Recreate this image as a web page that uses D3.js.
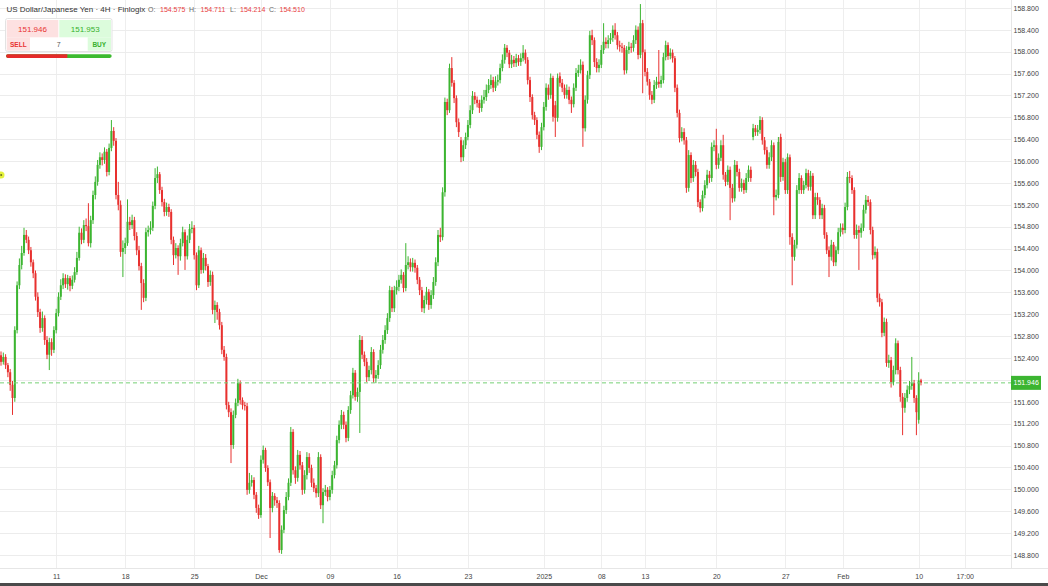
<!DOCTYPE html>
<html><head><meta charset="utf-8">
<script src="https://cdn.jsdelivr.net/npm/d3@7"></script>
<style>html,body{margin:0;padding:0;background:#fff;overflow:hidden}svg{display:block;font-family:"Liberation Sans",Arial,sans-serif}</style>
</head><body><svg id="c" width="1048" height="586"></svg>
<script>
const opens=[
152.45,152.33,152.42,152.27,152.14,151.91,151.67,152.91,153.73,154.10,
154.32,154.65,154.56,154.37,154.15,153.95,153.52,153.24,152.95,153.13,
152.73,152.46,152.69,152.55,152.91,153.22,153.52,153.73,153.86,153.75,
153.86,153.72,153.83,153.97,154.23,154.69,154.56,154.83,154.81,154.50,
154.92,155.38,155.62,155.93,156.07,156.02,156.17,155.80,156.24,156.55,
156.37,155.38,155.20,154.34,154.41,154.50,154.89,154.83,154.92,154.63,
154.37,154.08,153.77,153.50,154.70,154.74,154.78,155.18,155.69,155.76,
155.47,155.25,155.07,155.16,155.07,154.56,154.28,154.41,154.26,154.50,
154.70,154.26,154.56,154.76,154.78,154.28,153.73,154.37,154.01,154.23,
154.08,153.79,153.92,153.28,153.37,153.24,153.00,152.55,152.42,151.54,
151.41,150.81,151.36,151.58,151.94,151.63,151.54,151.52,149.99,150.12,
150.17,149.90,149.66,149.53,150.54,150.72,150.39,150.13,149.66,149.88,
149.80,149.75,148.89,149.26,149.62,149.86,150.12,151.05,150.35,150.21,
150.63,150.44,149.99,150.26,150.59,150.39,150.12,150.02,149.93,150.59,
149.71,149.95,149.99,149.86,149.99,150.26,150.44,150.90,151.18,151.36,
151.18,150.94,151.45,151.72,152.13,151.69,151.78,152.73,152.46,152.33,
152.05,152.18,152.51,152.03,152.09,152.27,152.55,152.73,152.91,153.13,
153.64,153.31,153.64,153.70,153.83,153.92,153.68,154.10,154.15,154.06,
154.14,154.05,153.83,153.64,153.31,153.46,153.61,153.37,153.55,153.79,
154.15,154.65,154.61,155.43,157.08,156.93,157.70,157.43,157.15,156.71,
156.38,156.07,156.29,156.44,156.66,156.93,157.19,157.12,157.06,156.97,
157.12,157.17,157.30,157.39,157.48,157.34,157.45,157.48,157.70,157.85,
158.07,157.98,157.77,157.85,157.79,157.88,157.81,157.88,157.98,157.85,
157.48,157.17,156.84,156.75,156.48,156.26,156.62,156.99,157.34,157.21,
157.52,157.02,156.79,157.55,157.43,157.34,157.21,157.30,157.12,157.04,
157.34,157.61,157.66,157.76,156.60,157.12,157.57,158.30,158.21,157.81,
157.70,157.76,158.03,158.18,158.14,158.21,158.25,158.40,158.30,158.12,
158.09,158.07,157.66,158.03,158.09,158.07,158.21,158.40,157.94,158.52,
157.99,157.63,157.45,157.21,157.12,157.39,157.45,157.41,157.48,157.90,
158.12,157.92,157.98,157.88,157.34,156.88,156.42,156.53,156.38,155.51,
156.11,155.69,155.93,155.80,155.25,155.14,155.38,155.56,155.75,155.69,
156.26,156.29,155.93,156.06,156.29,155.75,155.62,155.84,155.51,155.32,
155.93,155.80,155.51,155.60,155.47,155.69,155.84,156.44,156.60,156.53,
156.57,156.75,156.38,156.20,155.93,156.07,156.29,155.34,155.38,156.44,
155.71,155.98,155.47,156.07,154.61,154.25,154.47,155.47,155.69,155.47,
155.56,155.78,155.53,155.73,155.01,155.34,155.29,155.01,155.14,154.65,
154.37,154.25,154.47,154.15,154.37,154.70,154.78,154.74,155.16,155.71,
155.69,155.47,154.65,154.74,154.69,154.78,155.11,155.29,155.25,154.74,
154.28,154.34,153.50,153.42,152.86,153.06,152.31,152.36,151.96,152.18,
152.67,152.18,151.69,151.49,151.67,151.82,151.89,151.94,151.67,151.27,
151.99];
const highs=[
152.52,152.50,152.47,152.31,152.20,151.98,152.98,153.80,154.22,154.45,
154.78,154.74,154.62,154.43,154.20,154.00,153.60,153.30,153.25,153.18,
152.80,152.77,152.76,152.98,153.30,153.60,153.84,153.95,153.93,153.92,
153.90,153.91,154.06,154.34,154.80,154.77,154.92,154.95,155.23,155.00,
155.46,155.72,156.02,156.16,156.14,156.25,156.22,156.32,156.75,156.62,
156.42,155.62,155.28,154.55,154.60,155.30,154.98,155.02,154.98,154.70,
154.45,154.14,153.84,154.78,154.82,154.90,155.26,155.87,155.90,155.80,
155.53,155.31,155.24,155.22,155.12,154.62,154.50,154.46,154.58,154.80,
154.75,154.64,154.85,154.90,154.83,154.33,154.45,154.42,154.32,154.30,
154.12,154.00,153.98,153.45,153.42,153.30,153.06,152.62,152.48,151.60,
151.48,151.44,151.66,152.02,151.99,151.68,151.60,151.58,150.30,150.26,
150.22,149.95,149.72,150.62,150.80,150.76,150.44,150.18,149.95,149.93,
149.86,149.80,149.34,149.70,149.95,150.20,151.14,151.10,150.42,150.72,
150.70,150.50,150.35,150.68,150.66,150.45,150.20,150.08,150.68,150.64,
150.02,150.08,150.04,150.06,150.34,150.52,150.98,151.26,151.45,151.42,
151.24,151.52,151.80,152.22,152.18,151.86,152.82,152.80,152.52,152.40,
152.26,152.60,152.56,152.18,152.36,152.64,152.82,153.00,153.22,153.72,
153.70,153.72,153.82,153.92,154.02,153.97,154.50,154.26,154.22,154.23,
154.20,154.10,153.88,153.70,153.54,153.70,153.66,153.64,153.88,154.24,
154.74,154.78,155.52,157.16,157.14,157.78,157.90,157.48,157.20,156.78,
156.44,156.38,156.52,156.75,157.02,157.28,157.26,157.18,157.12,157.20,
157.30,157.40,157.50,157.58,157.54,157.55,157.58,157.78,157.95,158.14,
158.12,158.03,157.94,157.92,157.96,157.94,157.97,158.12,158.04,157.90,
157.54,157.22,156.90,156.80,156.54,156.70,157.08,157.42,157.40,157.60,
157.56,157.10,157.60,157.62,157.50,157.40,157.40,157.36,157.18,157.42,
157.70,157.76,157.86,157.82,157.20,157.65,158.38,158.40,158.26,157.88,
157.86,158.12,158.52,158.26,158.30,158.34,158.48,158.52,158.36,158.20,
158.16,158.12,158.10,158.18,158.16,158.30,158.48,158.46,158.87,158.58,
158.04,157.70,157.50,157.28,157.48,157.54,158.03,157.56,157.98,158.20,
158.17,158.06,158.04,157.92,157.40,156.94,156.62,156.60,156.44,156.20,
156.16,156.02,156.00,155.86,155.30,155.46,155.65,155.84,155.82,156.34,
156.38,156.59,156.14,156.38,156.48,155.80,155.92,155.90,155.58,156.02,
156.00,155.86,155.68,155.66,155.78,155.92,155.90,156.68,156.66,156.66,
156.82,156.80,156.44,156.26,156.16,156.38,156.34,155.48,156.44,156.50,
156.06,156.04,156.14,156.12,154.68,154.56,155.56,155.78,155.74,155.64,
155.86,155.84,155.82,155.78,155.42,155.42,155.34,155.22,155.20,154.70,
154.44,154.56,154.52,154.44,154.78,154.86,154.86,155.24,155.80,155.82,
155.74,155.52,154.84,154.82,154.86,155.20,155.38,155.36,155.30,154.80,
154.44,154.40,153.58,153.48,153.14,153.12,152.46,152.42,152.26,152.76,
152.72,152.24,151.76,151.76,151.90,151.98,152.42,152.00,151.72,152.14,
152.02];
const lows=[
152.26,152.28,152.20,152.05,151.80,151.36,151.60,152.85,153.66,154.02,
154.27,154.50,154.30,154.07,153.86,153.45,153.15,152.86,152.88,152.64,
152.38,152.18,152.44,152.49,152.85,153.16,153.46,153.66,153.68,153.65,
153.62,153.66,153.78,153.92,154.18,154.48,154.50,154.72,154.44,154.42,
154.85,155.30,155.55,155.86,155.92,155.95,155.72,155.74,156.18,156.28,
155.30,155.10,154.25,153.88,154.30,154.45,154.74,154.76,154.55,154.28,
154.00,153.28,153.42,153.44,154.62,154.66,154.72,155.12,155.60,155.40,
155.17,154.99,155.00,154.98,154.48,154.10,154.22,153.92,154.18,154.44,
154.01,154.20,154.50,154.68,154.20,153.64,153.68,153.94,153.95,154.00,
153.70,153.72,153.20,153.04,153.10,152.92,152.47,152.35,151.46,151.32,
150.48,150.74,151.30,151.52,151.55,151.46,151.44,149.90,149.92,150.05,
149.82,149.57,149.46,149.48,150.47,150.32,150.06,149.11,149.58,149.70,
149.66,148.84,148.82,149.20,149.55,149.80,150.06,150.27,150.10,150.14,
150.36,149.90,149.92,150.18,150.30,150.04,149.95,149.85,149.86,149.64,
149.38,149.88,149.78,149.80,149.92,150.20,150.38,150.84,151.10,151.10,
150.86,150.88,151.38,151.66,151.62,151.60,151.03,152.38,152.25,151.96,
151.98,152.10,151.95,151.94,152.02,152.20,152.48,152.66,152.84,153.06,
153.24,153.24,153.56,153.62,153.76,153.60,153.62,154.02,153.98,153.98,
153.96,153.75,153.55,153.24,153.22,153.38,153.28,153.30,153.48,153.72,
154.08,154.52,154.55,155.35,156.84,156.88,157.36,157.06,156.62,156.44,
155.98,156.00,156.22,156.38,156.60,156.86,157.04,156.98,156.88,156.90,
157.05,157.10,157.24,157.32,157.26,157.28,157.38,157.42,157.64,157.78,
157.90,157.70,157.70,157.72,157.72,157.74,157.74,157.82,157.78,157.40,
157.08,156.76,156.66,156.40,156.15,156.20,156.56,156.92,157.12,157.14,
156.72,156.44,156.72,157.36,157.26,157.14,157.14,157.04,156.88,156.98,
157.28,157.54,157.60,156.26,156.54,157.05,157.50,158.12,157.72,157.62,
157.62,157.70,157.96,158.06,158.06,158.14,158.18,158.22,158.04,158.00,
157.98,157.58,157.60,157.96,157.98,158.00,158.14,157.86,157.88,157.24,
157.55,157.38,157.12,157.04,157.06,157.32,157.34,157.34,157.42,157.84,
157.85,157.86,157.80,157.26,156.80,156.34,156.36,156.30,155.42,155.44,
155.60,155.62,155.72,155.16,155.06,155.08,155.32,155.50,155.60,155.62,
156.18,155.85,155.86,156.00,155.66,155.54,155.56,154.92,155.24,155.26,
155.72,155.44,155.44,155.40,155.42,155.62,155.62,156.38,156.46,156.46,
156.50,156.30,156.12,155.86,155.86,156.00,155.01,155.28,155.32,155.62,
155.64,155.40,155.40,154.47,153.73,154.18,154.40,155.40,155.40,155.40,
155.50,155.46,155.46,154.94,154.94,155.20,154.94,154.94,154.58,154.30,
153.88,154.18,154.08,154.08,154.30,154.62,154.66,154.68,155.10,155.60,
155.40,154.58,154.58,154.01,154.60,154.72,155.04,155.18,154.66,154.20,
154.22,153.42,153.34,152.78,152.80,152.24,152.22,151.86,151.90,152.10,
152.10,151.60,150.99,151.40,151.60,151.74,151.82,151.58,150.99,151.20,
151.90];
const closes=[
152.33,152.42,152.27,152.14,151.91,151.67,152.91,153.73,154.10,154.32,
154.65,154.56,154.37,154.15,153.95,153.52,153.24,152.95,153.13,152.73,
152.46,152.69,152.55,152.91,153.22,153.52,153.73,153.86,153.75,153.86,
153.72,153.83,153.97,154.23,154.69,154.56,154.83,154.81,154.50,154.92,
155.38,155.62,155.93,156.07,156.02,156.17,155.80,156.24,156.55,156.37,
155.38,155.20,154.34,154.41,154.50,154.89,154.83,154.92,154.63,154.37,
154.08,153.77,153.50,154.70,154.74,154.78,155.18,155.69,155.76,155.47,
155.25,155.07,155.16,155.07,154.56,154.28,154.41,154.26,154.50,154.70,
154.26,154.56,154.76,154.78,154.28,153.73,154.37,154.01,154.23,154.08,
153.79,153.92,153.28,153.37,153.24,153.00,152.55,152.42,151.54,151.41,
150.81,151.36,151.58,151.94,151.63,151.54,151.52,149.99,150.12,150.17,
149.90,149.66,149.53,150.54,150.72,150.39,150.13,149.66,149.88,149.80,
149.75,148.89,149.26,149.62,149.86,150.12,151.05,150.35,150.21,150.63,
150.44,149.99,150.26,150.59,150.39,150.12,150.02,149.93,150.59,149.71,
149.95,149.99,149.86,149.99,150.26,150.44,150.90,151.18,151.36,151.18,
150.94,151.45,151.72,152.13,151.69,151.78,152.73,152.46,152.33,152.05,
152.18,152.51,152.03,152.09,152.27,152.55,152.73,152.91,153.13,153.64,
153.31,153.64,153.70,153.83,153.92,153.68,154.10,154.15,154.06,154.14,
154.05,153.83,153.64,153.31,153.46,153.61,153.37,153.55,153.79,154.15,
154.65,154.61,155.43,157.08,156.93,157.70,157.43,157.15,156.71,156.53,
156.07,156.29,156.44,156.66,156.93,157.19,157.12,157.06,156.97,157.12,
157.17,157.30,157.39,157.48,157.34,157.45,157.48,157.70,157.85,158.07,
157.98,157.77,157.85,157.79,157.88,157.81,157.88,157.98,157.85,157.48,
157.17,156.84,156.75,156.48,156.26,156.62,156.99,157.34,157.21,157.52,
156.81,156.79,157.52,157.43,157.34,157.21,157.30,157.12,157.04,157.34,
157.61,157.66,157.76,156.60,157.12,157.57,158.30,158.21,157.81,157.70,
157.76,158.03,158.18,158.14,158.21,158.25,158.40,158.30,158.12,158.09,
158.07,157.66,158.03,158.09,158.07,158.21,158.40,157.94,158.52,157.99,
157.63,157.45,157.21,157.12,157.39,157.45,157.41,157.48,157.90,158.12,
157.92,157.98,157.88,157.34,156.88,156.42,156.53,156.38,155.51,156.11,
155.69,155.93,155.80,155.25,155.14,155.38,155.56,155.75,155.69,156.26,
156.29,155.93,156.06,156.29,155.75,155.62,155.84,155.51,155.32,155.93,
155.80,155.51,155.60,155.47,155.69,155.84,155.69,156.60,156.53,156.57,
156.75,156.38,156.20,155.93,156.07,156.29,155.34,155.38,156.35,155.71,
155.98,155.47,156.07,154.61,154.25,154.47,155.47,155.69,155.47,155.56,
155.78,155.53,155.73,155.01,155.34,155.29,155.01,155.14,154.65,154.37,
154.25,154.47,154.15,154.37,154.70,154.78,154.74,155.16,155.71,155.69,
155.47,154.65,154.74,154.69,154.78,155.11,155.29,155.25,154.74,154.28,
154.34,153.50,153.42,152.86,153.06,152.31,152.36,151.96,152.18,152.67,
152.18,151.69,151.49,151.67,151.82,151.89,151.94,151.67,151.41,151.99,
151.95];

const priceTicks=[148.8,149.2,149.6,150.0,150.4,150.8,151.2,151.6,152.0,152.4,152.8,153.2,153.6,154.0,154.4,154.8,155.2,155.6,156.0,156.4,156.8,157.2,157.6,158.0,158.4,158.8];
const timeTickIndex=[24,54,84,113,143,172,203,236,261,280,311,341,366,399,419];
const timeTickLabels=["11","18","25","Dec","09","16","23","2025","08","13","20","27","Feb","10","17:00"];
const lastPrice=151.946;
const bidPrice="151.946", askPrice="151.953", spreadText="7";
const titleText="US Dollar/Japanese Yen · 4H · Finlogix";
const ohlcNames=["O:","H:","L:","C:"];
const ohlcValues=["154.575","154.711","154.214","154.510"];

const W=1048,H=586,plotW=1011,plotH=568;
const UP="#3cb531",DOWN="#e8312f";
const svg=d3.select("#c");

const x=d3.scaleLinear().domain([0,440]).range([1,1013]);
const y=d3.scaleLinear().domain([148.562,158.944]).range([plotH,0]);

// grid
const gv=svg.append("g").attr("transform",`translate(0,${plotH})`)
  .call(d3.axisBottom(x).tickValues(timeTickIndex).tickSize(-plotH).tickFormat(""));
gv.select(".domain").remove();
gv.selectAll("line").attr("stroke","#eeeeee").attr("shape-rendering","crispEdges");
const gh=svg.append("g")
  .call(d3.axisLeft(y).tickValues(priceTicks).tickSize(-plotW).tickFormat(""));
gh.select(".domain").remove();
gh.selectAll("line").attr("stroke","#ececec").attr("shape-rendering","crispEdges");

// candles
const idx=d3.range(closes.length);
const cg=svg.append("g");
cg.selectAll("line.w").data(idx).join("line")
  .attr("x1",i=>x(i)).attr("x2",i=>x(i))
  .attr("y1",i=>y(highs[i])).attr("y2",i=>y(lows[i]))
  .attr("stroke",i=>closes[i]>=opens[i]?UP:DOWN).attr("stroke-width",1);
cg.selectAll("rect.b").data(idx).join("rect")
  .attr("x",i=>x(i)-1).attr("width",2)
  .attr("y",i=>y(Math.max(opens[i],closes[i])))
  .attr("height",i=>Math.max(0.8,Math.abs(y(opens[i])-y(closes[i]))))
  .attr("fill",i=>closes[i]>=opens[i]?UP:DOWN);

// last price dashed line
svg.append("line").attr("x1",0).attr("x2",plotW).attr("y1",y(lastPrice)).attr("y2",y(lastPrice))
  .attr("stroke","#76d076").attr("stroke-dasharray","4,3").attr("stroke-width",1);

// axes borders
svg.append("line").attr("x1",plotW+0.5).attr("x2",plotW+0.5).attr("y1",0).attr("y2",plotH)
  .attr("stroke","#e6e6e6");
svg.append("line").attr("x1",0).attr("x2",W).attr("y1",plotH+0.5).attr("y2",plotH+0.5)
  .attr("stroke","#e6e6e6");

// right axis labels (the label hidden under the last-price tag is omitted, as in the reference)
const fmt=d3.format(".3f");
const ra=svg.append("g").attr("transform",`translate(${plotW},0)`)
  .call(d3.axisRight(y).tickValues(priceTicks).tickSize(0).tickPadding(2.5)
    .tickFormat(d=>Math.abs(y(d)-y(lastPrice))<10?"":fmt(d)));
ra.select(".domain").remove();
ra.selectAll("text").attr("font-size",7).attr("fill","#444").attr("font-family","Liberation Sans, Arial, sans-serif");

// bottom axis labels
const ba=svg.append("g").attr("transform",`translate(0,${plotH})`)
  .call(d3.axisBottom(x).tickValues(timeTickIndex).tickSize(0).tickPadding(6)
    .tickFormat((d,i)=>timeTickLabels[i]));
ba.select(".domain").remove();
ba.selectAll("text").attr("font-size",7).attr("fill","#444").attr("font-family","Liberation Sans, Arial, sans-serif");

// last price tag
const ly=y(lastPrice);
svg.append("rect").attr("x",plotW).attr("y",ly-7).attr("width",30).attr("height",14).attr("fill","#3cb531");
svg.append("text").attr("x",plotW+2.5).attr("y",ly+2.5).attr("font-size",7).attr("fill","#fff").text(fmt(lastPrice));

// bottom dark border
svg.append("rect").attr("x",0).attr("y",583).attr("width",W).attr("height",3).attr("fill","#4a4a4a");

// marker dot at left
svg.append("circle").attr("cx",1).attr("cy",175).attr("r",3.5).attr("fill","#e4f23c");
svg.append("circle").attr("cx",1.2).attr("cy",175).attr("r",1).attr("fill","#6b7020");

// header
svg.append("text").attr("x",6.5).attr("y",11.8).attr("font-size",8).attr("fill","#333").text(titleText);
const ohX=[148,189,230,269], ovX=[160,200.5,240,279.5];
ohlcNames.forEach((n,i)=>{
  svg.append("text").attr("x",ohX[i]).attr("y",11.8).attr("font-size",7).attr("fill","#666").text(n);
  svg.append("text").attr("x",ovX[i]).attr("y",11.8).attr("font-size",7).attr("fill","#e8413f").text(ohlcValues[i]);
});

// trade panel
const pg=svg.append("g");
pg.append("rect").attr("x",5.5).attr("y",18.5).attr("width",106.5).attr("height",33).attr("rx",2)
  .attr("fill","#fff").attr("stroke","#e3e3e3");
pg.append("rect").attr("x",6.7).attr("y",20).attr("width",51.6).attr("height",17.3).attr("fill","#fde1e1");
pg.append("rect").attr("x",59.3).attr("y",20).attr("width",51.7).attr("height",17.3).attr("fill","#dcfcdc");
pg.append("rect").attr("x",6.7).attr("y",37.3).attr("width",23.3).attr("height",13.4).attr("fill","#fde1e1");
pg.append("rect").attr("x",87.7).attr("y",37.3).attr("width",23.3).attr("height",13.4).attr("fill","#dcfcdc");
pg.append("text").attr("x",32.5).attr("y",31.6).attr("text-anchor","middle").attr("font-size",8).attr("fill","#e8312f").text(bidPrice);
pg.append("text").attr("x",85.2).attr("y",31.6).attr("text-anchor","middle").attr("font-size",8).attr("fill","#36b02c").text(askPrice);
pg.append("text").attr("x",18.3).attr("y",46.8).attr("text-anchor","middle").attr("font-size",6.5).attr("font-weight","bold").attr("fill","#e8312f").text("SELL");
pg.append("text").attr("x",99.3).attr("y",46.8).attr("text-anchor","middle").attr("font-size",6.5).attr("font-weight","bold").attr("fill","#36b02c").text("BUY");
pg.append("text").attr("x",58.8).attr("y",46.8).attr("text-anchor","middle").attr("font-size",7).attr("fill","#555").text(spreadText);
pg.append("rect").attr("x",6).attr("y",54.3).attr("width",105.7).attr("height",3.6).attr("rx",1.8).attr("fill","#3cba2f");
pg.append("path").attr("d","M7.8,54.3 H67.3 V57.9 H7.8 A1.8,1.8 0 0 1 7.8,54.3 Z").attr("fill","#e52a2a");
</script></body></html>
